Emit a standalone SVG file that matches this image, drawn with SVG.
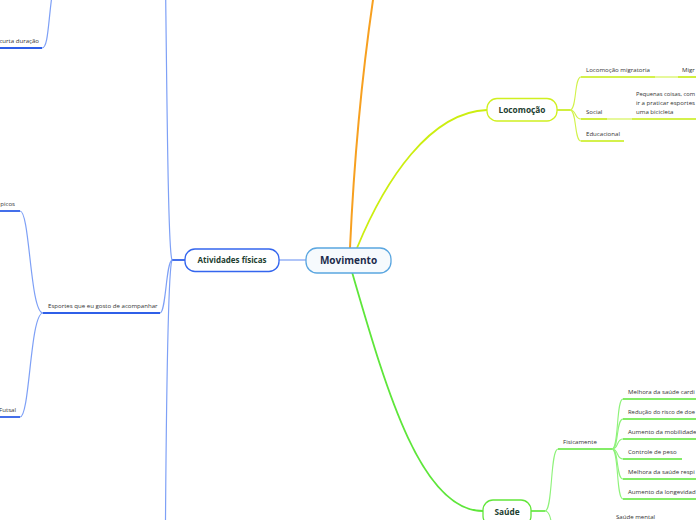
<svg xmlns="http://www.w3.org/2000/svg" width="696" height="520" viewBox="0 0 696 520">
<style>
.lbl{font-family:"Open Sans","Noto Sans",sans-serif;font-size:6.1px;fill:#333}
.nt{font-family:"Open Sans","Noto Sans",sans-serif;font-weight:bold;fill:#1d4030;text-anchor:middle}
.c{fill:none}
.bl{stroke:#7ea0f6;stroke-width:1.2}
.bu{stroke:#2f5fe8;stroke-width:1.8}
.yl{stroke:#d2f24a;stroke-width:1.1}
.yu{stroke:#c6ec10;stroke-width:1.6}
.gl{stroke:#8ef27a;stroke-width:1.1}
.gu{stroke:#5ae634;stroke-width:1.6}
</style>
<rect width="696" height="520" fill="#fff"/>
<g id="connectors" class="c">
  <path d="M279,260 L306,260" stroke="#9cb6f6" stroke-width="1.6"/>
  <path d="M350,248 C354,160 362,70 376,-20" stroke="#f7a020" stroke-width="2"/>
  <path d="M357,248 C385,180 430,112 487,110" stroke="#ccee10" stroke-width="1.8"/>
  <path d="M352,272 C385,385 420,511 483,511" stroke="#5ee63a" stroke-width="1.8"/>
  <path d="M185,260 L172,260" class="bu"/>
  <path d="M172,260 C168,250 167,100 165,-60" class="bl"/>
  <path d="M172,260 C168,270 166,400 165,600" class="bl"/>
  <path d="M172,260 C166,262 166,313 160,313" class="bl"/>
  <path d="M160,313 L43,313" class="bu"/>
  <path d="M43,313 C30,313 30,211 20,211" class="bl"/>
  <path d="M43,313 C30,313 30,417 20,417" class="bl"/>
  <path d="M20,211 L-5,211" class="bu"/>
  <path d="M20,417 L-5,417" class="bu"/>
  <path d="M42,48 C48,48 48,25 52,-5" class="bl"/>
  <path d="M42,48 L-5,48" class="bu"/>
  <path d="M557,110 L570,110" class="yu"/>
  <path d="M570,110 C577,110 574,77 581,77" class="yl"/>
  <path d="M570,110 C577,110 574,119 581,119" class="yl"/>
  <path d="M570,110 C577,110 574,141 581,141" class="yl"/>
  <path d="M581,77 L655,77" class="yu"/>
  <path d="M655,77 L678,77" class="yl"/>
  <path d="M678,77 L700,77" class="yu"/>
  <path d="M581,119 L607,119" class="yu"/>
  <path d="M607,119 L632,119" class="yl"/>
  <path d="M632,119 L700,119" class="yu"/>
  <path d="M581,141 L624,141" class="yu"/>
  <path d="M531,511 L545,511" class="gu"/>
  <path d="M545,511 C553,511 550,449 558,449" class="gl"/>
  <path d="M545,511 C552,511 551,530 556,540" class="gl"/>
  <path d="M558,449 L612,449" class="gu"/>
  <path d="M612,449 C619,449 616,399 623,399" class="gl"/>
  <path d="M612,449 C619,449 616,419 623,419" class="gl"/>
  <path d="M612,449 C619,449 616,439 623,439" class="gl"/>
  <path d="M612,449 C619,449 616,459 623,459" class="gl"/>
  <path d="M612,449 C619,449 616,479 623,479" class="gl"/>
  <path d="M612,449 C619,449 616,499 623,499" class="gl"/>
  <path d="M623,399 L700,399" class="gu"/>
  <path d="M623,419 L700,419" class="gu"/>
  <path d="M623,439 L700,439" class="gu"/>
  <path d="M623,459 L682,459" class="gu"/>
  <path d="M623,479 L700,479" class="gu"/>
  <path d="M623,499 L700,499" class="gu"/>
</g>
<g id="movimento">
  <rect x="306" y="248" width="85" height="25" rx="11" fill="#f6fafd" stroke="#5aa6e0" stroke-width="1.3"/>
  <text x="348.5" y="264" class="nt" font-size="10" style="fill:#1c2c4c">Movimento</text>
</g>
<g id="atividades">
  <rect x="185" y="249" width="94" height="22.5" rx="10" fill="#fff" stroke="#3466ee" stroke-width="1.3"/>
  <text x="232" y="263" class="nt" font-size="8">Atividades físicas</text>
</g>
<g id="locomocao">
  <rect x="487" y="98.5" width="70" height="22.5" rx="10" fill="#fff" stroke="#d0f020" stroke-width="1.3"/>
  <text x="522" y="113" class="nt" font-size="8.3">Locomoção</text>
</g>
<g id="saude">
  <rect x="483" y="500" width="48" height="26" rx="10" fill="#fff" stroke="#62e63a" stroke-width="1.3"/>
  <text x="507" y="515" class="nt" font-size="8.3">Saúde</text>
</g>
<g id="curta"><text x="39" y="43" class="lbl" text-anchor="end">curta duração</text></g>
<g id="olimpicos"><text x="15" y="206" class="lbl" text-anchor="end">picos</text></g>
<g id="futsal"><text x="16" y="412" class="lbl" text-anchor="end">Futsal</text></g>
<g id="esportes"><text x="48" y="308" class="lbl">Esportes que eu gosto de acompanhar</text></g>
<g id="migratoria"><text x="586" y="72" class="lbl">Locomoção migratoria</text></g>
<g id="migr"><text x="682" y="72" class="lbl">Migr</text></g>
<g id="social"><text x="586" y="114" class="lbl">Social</text></g>
<g id="pequenas"><text class="lbl"><tspan x="636" y="96" textLength="59" lengthAdjust="spacingAndGlyphs">Pequenas coisas, com</tspan><tspan x="636" y="105">ir a praticar esportes</tspan><tspan x="636" y="114">uma bicicleta</tspan></text></g>
<g id="educacional"><text x="586" y="136" class="lbl">Educacional</text></g>
<g id="fisicamente"><text x="563" y="444" class="lbl">Fisicamente</text></g>
<g id="cardio"><text x="628" y="394" class="lbl">Melhora da saúde cardi</text></g>
<g id="risco"><text x="628" y="414" class="lbl" textLength="67" lengthAdjust="spacingAndGlyphs">Redução do risco de doe</text></g>
<g id="mobilidade"><text x="628" y="434" class="lbl">Aumento da mobilidade</text></g>
<g id="peso"><text x="628" y="454" class="lbl">Controle de peso</text></g>
<g id="respi"><text x="628" y="474" class="lbl">Melhora da saúde respi</text></g>
<g id="longevidade"><text x="628" y="494" class="lbl">Aumento da longevidad</text></g>
<g id="mental"><text x="616" y="519" class="lbl">Saúde mental</text></g>
</svg>
